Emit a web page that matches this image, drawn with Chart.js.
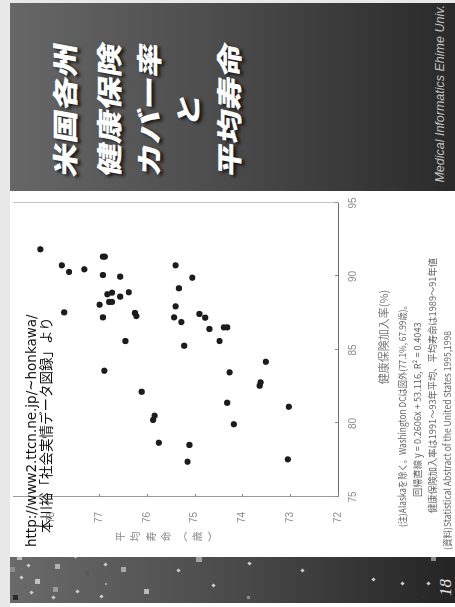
<!DOCTYPE html>
<html>
<head>
<meta charset="utf-8">
<script src="https://cdn.jsdelivr.net/npm/chart.js@4"></script>
<style>
  html, body { margin: 0; padding: 0; width: 455px; height: 607px; overflow: hidden; background: #fff; }
  /* the slide is laid out landscape and turned a quarter turn */
  #slide {
    position: absolute; left: 0; top: 0; width: 607px; height: 455px;
    transform-origin: 0 0; transform: translate(0, 607px) rotate(-90deg);
    background: #fff; overflow: hidden;
    font-family: "Liberation Sans", "Noto Sans CJK JP", sans-serif;
  }
  #edgeTop { position: absolute; left: 0; top: 0; width: 607px; height: 10px; background: #e8e8e8; }
  #edgeRight { position: absolute; left: 604px; top: 0; width: 3px; height: 455px; background: #e8e8e8; }
  #panel {
    position: absolute; left: 416px; top: 10px; width: 188px; height: 445px;
    background: linear-gradient(to bottom, #676767 0%, #4a4a4a 50%, #2a2a2a 100%);
  }
  #strip {
    position: absolute; left: 4px; top: 10px; width: 46px; height: 445px;
    background: linear-gradient(to bottom, #6a6a6a 0%, #474747 55%, #242424 100%);
    overflow: hidden;
  }
  .sq { position: absolute; background: #b4b4b4; }
  .dm { position: absolute; width: 3px; height: 3px; background: #cfcfcf; transform: rotate(45deg); }
  .ttl {
    position: absolute; left: 0; width: 164px; text-align: center;
    font-family: "Noto Sans CJK JP", sans-serif; font-weight: 900; font-size: 26px;
    line-height: 32px; height: 32px; letter-spacing: 0; color: #fff;
    text-shadow: -1px 3px 3px rgba(0,0,0,0.75);
    transform: scaleX(1.28) skewX(-8deg);
    white-space: nowrap;
  }
  #univ {
    position: absolute; right: 2px; top: 422px; font-style: italic; font-size: 12.5px;
    line-height: 16px; color: #c4c4c4; white-space: nowrap;
  }
  #page {
    position: absolute; left: 7px; top: 426px; font-family: "Liberation Serif", "DejaVu Serif", serif;
    font-style: italic; font-size: 17px; line-height: 20px; color: #e4e4e4;
  }
  #chartBox { position: absolute; left: 0; top: 10px; width: 417px; height: 390px; }
  #src1 { position: absolute; left: 60px; top: 24px; font-family: "DejaVu Sans", sans-serif; font-size: 13.5px; line-height: 15px; color: #111; white-space: nowrap; }
  #src2 { position: absolute; left: 74px; top: 38px; font-family: "Noto Sans CJK JP", sans-serif; font-size: 13.5px; line-height: 15px; color: #111; white-space: nowrap; }
  #yTitle {
    position: absolute; left: 63px; top: 115px; writing-mode: vertical-rl; text-orientation: upright;
    font-family: "Noto Sans CJK JP", sans-serif; font-size: 10px; letter-spacing: 5.5px; color: #8a8a8a;
  }
  #xTitle {
    position: absolute; left: 170px; top: 376px; width: 200px; text-align: center;
    font-family: "Noto Sans CJK JP", sans-serif; font-size: 11px; line-height: 14px; color: #7a7a7a;
  }
  .note {
    position: absolute; font-family: "Noto Sans CJK JP", sans-serif; font-size: 9.5px;
    line-height: 12px; color: #666; white-space: nowrap; transform-origin: 0 50%;
  }
</style>
</head>
<body>
<div id="slide">
  <div id="edgeTop"></div>
  <div id="edgeRight"></div>
  <div id="strip"><div id="page">18</div></div>
  <div id="panel">
    <div class="ttl" style="top:38px">米国各州</div>
    <div class="ttl" style="top:82px">健康保険</div>
    <div class="ttl" style="top:122px">カバー率</div>
    <div class="ttl" style="top:161px">と</div>
    <div class="ttl" style="top:202px">平均寿命</div>
    <div id="univ">Medical Informatics Ehime Univ.</div>
  </div>
  <div id="chartBox"><canvas id="chart" width="417" height="390"></canvas></div>
  <div id="yTitle">平均寿命（歳）</div>
  <div id="xTitle">健康保険加入率(%)</div>
  <div id="src1">http://www2.ttcn.ne.jp/~honkawa/</div>
  <div id="src2">本川裕「社会実情データ図録」より</div>
  <div class="note" style="left:80px;top:396px;transform:scaleX(0.87)">(注)Alaskaを除く。Washington DCは図外(77.1%, 67.99歳)。</div>
  <div class="note" style="left:110px;top:411px;transform:scaleX(0.97)">回帰直線 y = 0.2606x + 53.116, R² = 0.4043</div>
  <div class="note" style="left:94px;top:426px;transform:scaleX(0.97)">健康保険加入率は1991～93年平均、平均寿命は1989～91年値</div>
  <div class="note" style="left:57px;top:441px;transform:scaleX(0.9)">(資料)Statistical Abstract of the United States 1995,1998</div>
</div>

<script>
// 健康保険加入率 (%) per state
const coverage = [
  91.85, 90.76, 90.31, 90.49, 91.35, 91.35, 90.10, 89.99, 88.79, 88.90,
  88.93, 88.63, 88.08, 88.27, 88.27, 87.56, 87.22, 87.52, 87.31, 85.61,
  83.59, 82.16, 90.76, 89.20, 87.97, 87.22, 86.90, 89.92, 87.45, 87.20,
  86.43, 86.54, 86.54, 85.29, 85.61, 84.20, 83.48, 82.80, 82.57, 80.53,
  80.24, 78.69, 81.41, 81.14, 79.95, 78.54, 77.40, 77.56
];
// 平均寿命 (歳) per state, same order
const lifeExpectancy = [
  78.23, 77.78, 77.63, 77.31, 76.92, 76.88, 76.92, 76.56, 76.83, 76.73,
  76.38, 76.56, 76.99, 76.79, 76.73, 77.73, 76.92, 76.25, 76.22, 76.45,
  76.89, 76.11, 75.40, 75.33, 75.40, 75.43, 75.28, 75.05, 74.90, 74.78,
  74.69, 74.39, 74.32, 75.22, 74.48, 73.51, 74.27, 73.62, 73.64, 75.84,
  75.87, 75.75, 74.32, 73.03, 74.18, 75.11, 75.15, 73.05
];
const coverageTicks = [75, 80, 85, 90, 95];
const lifeTicks = [72, 73, 74, 75, 76, 77, 78];

// small squares and diamonds on the left strip (slide coordinates)
const stripSquares = [
  [49, 19, 5, '#bdbdbd'], [40, 57, 5, '#b0b0b0'], [25, 37, 5, '#c0c0c0'], [37, 123, 5, '#a8a8a8'],
  [17, 55, 5, '#9a9a9a'], [15, 146, 5, '#b8b8b8'], [48, 199, 6, '#a0a0a0'], [9, 248, 3, '#8a8a8a'],
  [33, 87, 5, '#5a5a5a'], [9, 15, 5, '#2a2a2a'], [48, 433, 5, '#8a8a8a'], [10, 423, 4, '#2e2e2e'],
  [37, 12, 5, '#8c8c8c'], [23, 106, 2, '#a0a0a0']
];
const stripDiamonds = [
  [41, 28], [29, 21], [14, 31], [9, 53], [15, 77], [50, 75], [42, 105], [10, 101],
  [36, 178], [21, 213], [43, 249], [36, 302], [27, 373], [23, 402], [23, 428]
];
const strip = document.getElementById('strip');
stripSquares.forEach(([x, y, s, c]) => {
  const d = document.createElement('div');
  d.className = 'sq';
  d.style.cssText = `left:${x - 4 - s / 2}px;top:${y - 10 - s / 2}px;width:${s}px;height:${s}px;background:${c}`;
  strip.appendChild(d);
});
stripDiamonds.forEach(([x, y]) => {
  const d = document.createElement('div');
  d.className = 'dm';
  d.style.cssText = `left:${x - 4 - 1.5}px;top:${y - 10 - 1.5}px`;
  strip.appendChild(d);
});

// short tick marks pointing into the plot
const innerTicks = {
  id: 'innerTicks',
  afterDraw(chart) {
    const { ctx, chartArea, scales } = chart;
    ctx.save();
    ctx.lineWidth = 1;
    ctx.strokeStyle = '#8a8a8a';
    coverageTicks.forEach(v => {
      const px = Math.round(scales.x.getPixelForValue(v)) + 0.5;
      ctx.beginPath(); ctx.moveTo(px, chartArea.bottom); ctx.lineTo(px, chartArea.bottom - 3); ctx.stroke();
    });
    lifeTicks.forEach(v => {
      const py = Math.round(scales.y.getPixelForValue(v)) + 0.5;
      ctx.beginPath(); ctx.moveTo(chartArea.left, py); ctx.lineTo(chartArea.left + 3, py); ctx.stroke();
    });
    ctx.restore();
  }
};

const tickFont = { family: 'Liberation Sans', size: 10 };
const noPad = s => { s.paddingTop = 0; s.paddingBottom = 0; s.paddingLeft = 0; s.paddingRight = 0; };

new Chart(document.getElementById('chart'), {
  type: 'scatter',
  data: {
    datasets: [{
      data: coverage.map((c, i) => ({ x: c, y: lifeExpectancy[i] })),
      pointRadius: 3.1,
      pointHoverRadius: 3.1,
      pointBackgroundColor: '#1c1c1c',
      pointBorderWidth: 0
    }]
  },
  options: {
    responsive: false,
    animation: false,
    events: [],
    layout: { padding: 0 },
    plugins: { legend: { display: false }, tooltip: { enabled: false } },
    scales: {
      x: {
        type: 'linear', position: 'bottom', min: 75, max: 95,
        afterBuildTicks: s => { s.ticks = coverageTicks.map(v => ({ value: v })); },
        afterFit: s => { s.height = 62; noPad(s); },
        grid: { display: false, drawTicks: false },
        border: { display: true, color: '#6e6e6e', width: 1 },
        ticks: { padding: 9, color: '#8a8a8a', font: tickFont, maxRotation: 0 }
      },
      y: {
        type: 'linear', position: 'left', min: 72, max: 78.8,
        afterBuildTicks: s => { s.ticks = lifeTicks.map(v => ({ value: v })); },
        afterFit: s => { s.width = 110; noPad(s); },
        grid: { display: false, drawTicks: false },
        border: { display: true, color: '#9c9c9c', width: 1 },
        ticks: { padding: 15, color: '#8a8a8a', font: tickFont }
      },
      y2: {
        type: 'linear', position: 'right', min: 72, max: 78.8,
        afterFit: s => { s.width = 13; noPad(s); },
        grid: { display: false, drawTicks: false },
        border: { display: true, color: '#c4c4c4', width: 1 },
        ticks: { display: false }
      }
    }
  },
  plugins: [innerTicks]
});
</script>
</body>
</html>
